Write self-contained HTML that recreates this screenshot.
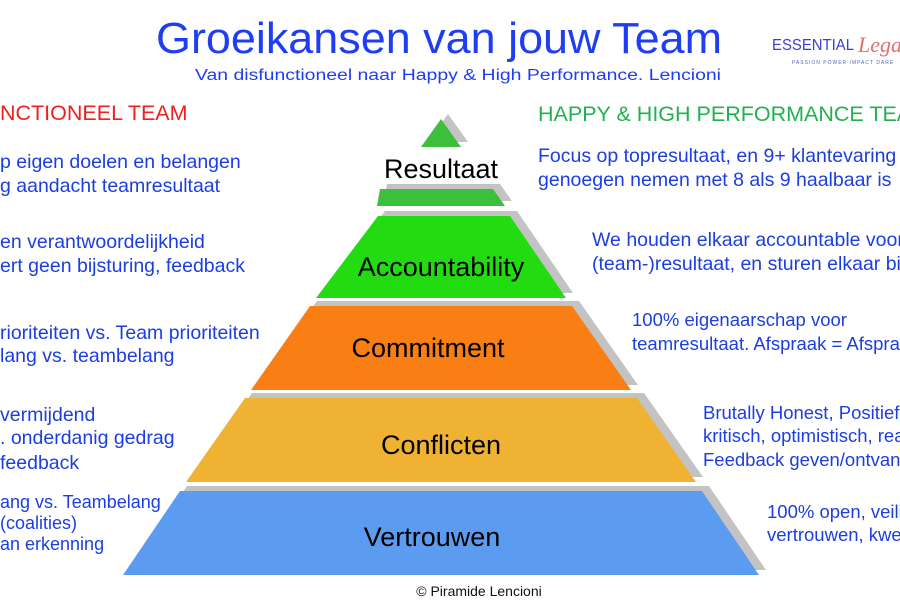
<!DOCTYPE html>
<html><head><meta charset="utf-8"><style>
html,body{margin:0;padding:0;background:#fff;}
svg{display:block;font-family:"Liberation Sans",Arial,sans-serif;}
</style></head><body>
<svg width="900" height="604" viewBox="0 0 900 604" xmlns="http://www.w3.org/2000/svg">
<rect width="900" height="604" fill="#fff"/>
<text x="439" y="53" text-anchor="middle" font-size="44" fill="#1f3df2" textLength="566" lengthAdjust="spacingAndGlyphs">Groeikansen van jouw Team</text>
<text x="458" y="80" text-anchor="middle" font-size="15.5" fill="#1f3df2" textLength="526" lengthAdjust="spacingAndGlyphs">Van disfunctioneel naar Happy &amp; High Performance. Lencioni</text>
<text x="772" y="50" font-size="16" fill="#3b3fd0" textLength="82" lengthAdjust="spacingAndGlyphs">ESSENTIAL</text>
<text x="858" y="52" font-size="22" font-style="italic" font-family="Liberation Serif,serif" fill="#e07070">Lega</text>
<text x="792" y="64" font-size="5" fill="#5566bb" letter-spacing="1">PASSION POWER IMPACT DARE</text>

<text x="0" y="120" font-size="21.5" fill="#f0201e">NCTIONEEL TEAM</text>
<text x="538" y="121" font-size="21.5" fill="#22b150">HAPPY &amp; HIGH PERFORMANCE TEAM</text>

<g font-size="19.5" fill="#1c3ee0">
<text x="0" y="168">p eigen doelen en belangen</text>
<text x="0" y="192">g aandacht teamresultaat</text>
<text x="0" y="248">en verantwoordelijkheid</text>
<text x="0" y="272">ert geen bijsturing, feedback</text>
<text x="0" y="339">rioriteiten vs. Team prioriteiten</text>
<text x="0" y="362">lang vs. teambelang</text>
<text x="0" y="421">vermijdend</text>
<text x="0" y="444">. onderdanig gedrag</text>
<text x="0" y="469">feedback</text>
<text x="0" y="508" font-size="18">ang vs. Teambelang</text>
<text x="0" y="529" font-size="18">(coalities)</text>
<text x="0" y="550" font-size="18">an erkenning</text>

<text x="538" y="162">Focus op topresultaat, en 9+ klantevaring</text>
<text x="538" y="186">genoegen nemen met 8 als 9 haalbaar is</text>
<text x="592" y="246">We houden elkaar accountable voor</text>
<text x="592" y="270">(team-)resultaat, en sturen elkaar bij</text>
<text x="632" y="326" font-size="18.5">100% eigenaarschap voor</text>
<text x="632" y="350" font-size="18.5">teamresultaat. Afspraak = Afspraak</text>
<text x="703" y="419" font-size="18.5">Brutally Honest, Positief</text>
<text x="703" y="442" font-size="18.5">kritisch, optimistisch, realistisch</text>
<text x="703" y="466" font-size="18.5">Feedback geven/ontvangen</text>
<text x="767" y="518" font-size="18.5">100% open, veilig</text>
<text x="767" y="541" font-size="18.5">vertrouwen, kwetsbaar</text>
</g>

<g fill="#c3c3c3" transform="translate(7,-5)">
<polygon points="441,119 461,147 421,147"/>
<polygon points="380,189 493,189 505,206 377,206"/>
<polygon points="378,216 510,216 566,298 316,298"/>
<polygon points="310,306 572,306 631,390 251,390"/>
<polygon points="245,398 637,398 696,482 186,482"/>
<polygon points="180,491 702,491 759,575 123,575"/>
</g>
<polygon points="441,119 461,147 421,147" fill="#3cbf3a"/>
<polygon points="380,189 493,189 505,206 377,206" fill="#3cbf3a"/>
<polygon points="378,216 510,216 566,298 316,298" fill="#22dc11"/>
<polygon points="310,306 572,306 631,390 251,390" fill="#f97f14"/>
<polygon points="245,398 637,398 696,482 186,482" fill="#efb232"/>
<polygon points="180,491 702,491 759,575 123,575" fill="#5b9cf0"/>

<g font-size="27" fill="#000" text-anchor="middle">
<text x="441" y="178">Resultaat</text>
<text x="441" y="276">Accountability</text>
<text x="428" y="357">Commitment</text>
<text x="441" y="454">Conflicten</text>
<text x="432" y="546">Vertrouwen</text>
</g>
<text x="479" y="596" text-anchor="middle" font-size="14" fill="#111">© Piramide Lencioni</text>
</svg>
</body></html>
